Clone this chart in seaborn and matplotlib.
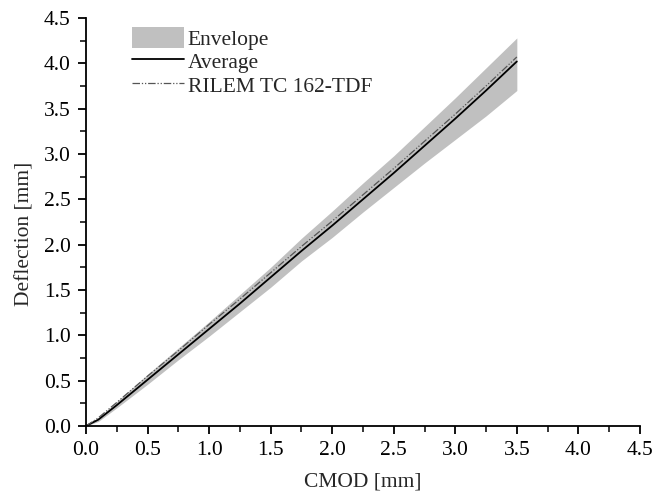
import pandas as pd
import matplotlib
matplotlib.use("Agg")
import matplotlib.pyplot as plt
import seaborn as sns
from matplotlib.ticker import MultipleLocator, FormatStrFormatter
from matplotlib.patches import Patch
from matplotlib.lines import Line2D

# values
cmod = [0.0, 0.1, 0.25, 0.5, 0.75, 1.0, 1.25, 1.5, 1.75, 2.0, 2.25, 2.5, 2.75, 3.0, 3.25, 3.5]
average = [0.0, 0.07, 0.23, 0.51, 0.79, 1.07, 1.35, 1.64, 1.93, 2.21, 2.50, 2.79, 3.09, 3.39, 3.70, 4.02]
rilem = [0.0, 0.09, 0.26, 0.55, 0.83, 1.12, 1.40, 1.69, 1.98, 2.26, 2.55, 2.84, 3.14, 3.44, 3.75, 4.07]
env_low = [0.0, 0.05, 0.20, 0.46, 0.73, 0.99, 1.26, 1.53, 1.82, 2.08, 2.36, 2.63, 2.90, 3.16, 3.42, 3.70]
env_high = [0.0, 0.09, 0.27, 0.57, 0.86, 1.15, 1.45, 1.75, 2.07, 2.37, 2.68, 2.98, 3.30, 3.62, 3.95, 4.28]

df = pd.DataFrame({"CMOD": cmod, "Average": average, "RILEM": rilem,
                   "low": env_low, "high": env_high})

sns.set_style("ticks")
plt.rcParams["font.family"] = ["Liberation Serif", "DejaVu Serif"]

dash = (0, (6, 1.5, 1, 1.5, 1, 1.5))
fs = 15.5

fig = plt.figure(figsize=(6.54, 4.99), dpi=100)
ax = fig.add_axes([0.1315, 0.1463, 0.847, 0.8177])

ax.fill_between(df["CMOD"], df["low"], df["high"], color="#c0c0c0", lw=0)
sns.lineplot(data=df, x="CMOD", y="Average", ax=ax, color="black", lw=1.3)
sns.lineplot(data=df, x="CMOD", y="RILEM", ax=ax, color="#555555", lw=0.9, linestyle=dash)

ax.set_xlim(0, 4.5)
ax.set_ylim(0, 4.5)
ax.xaxis.set_major_locator(MultipleLocator(0.5))
ax.yaxis.set_major_locator(MultipleLocator(0.5))
ax.xaxis.set_minor_locator(MultipleLocator(0.25))
ax.yaxis.set_minor_locator(MultipleLocator(0.25))
ax.xaxis.set_major_formatter(FormatStrFormatter("%.1f"))
ax.yaxis.set_major_formatter(FormatStrFormatter("%.1f"))
ax.tick_params(which="major", direction="out", length=6, width=1.3, labelsize=fs,
               colors="black", pad=5)
ax.tick_params(which="minor", direction="out", length=4, width=1.3)
sns.despine(ax=ax)
for s in ["left", "bottom"]:
    ax.spines[s].set_linewidth(1.3)
    ax.spines[s].set_color("black")

ax.set_xlabel("CMOD [mm]", fontsize=fs, labelpad=9)
ax.set_ylabel("Deflection [mm]", fontsize=fs)
ax.yaxis.set_label_coords(-0.093, 0.47)

handles = [Patch(facecolor="#c0c0c0", edgecolor="none"),
           Line2D([], [], color="black", lw=1.3),
           Line2D([], [], color="#555555", lw=0.9, linestyle=dash)]
ax.legend(handles, ["Envelope", "Average", "RILEM TC 162-TDF"], loc="upper left",
          bbox_to_anchor=(0.055, 1.015), frameon=False, fontsize=fs, handlelength=2.45,
          handleheight=1.1, handletextpad=0.15, labelspacing=0.05, borderpad=0.2)

fig.savefig("out.png", dpi=100)
